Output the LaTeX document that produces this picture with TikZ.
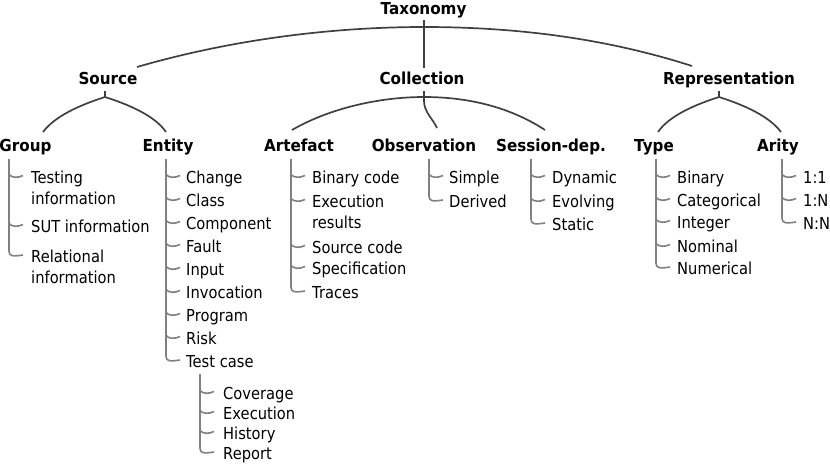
\documentclass[tikz,border=0pt]{standalone}
\usepackage{fontspec}
\setmainfont{DejaVu Sans}[FakeStretch=0.89, BoldFeatures={FakeStretch=0.92}]
\newcommand\leafhook[2]{\draw[leafline] (#1,#2-1.5) .. controls (#1+3,#2+2) and (#1+9,#2+2) .. (#1+14,#2-0.5);}
\newcommand\leafstem[3]{\draw[leafline] (#1,#2) -- (#1,#3-4) .. controls (#1,#3+1.5) and (#1+4,#3+1.5) .. (#1+14,#3);}
\newcommand\twolines[2]{\begin{tabular}[t]{@{}l@{}}#1\\#2\end{tabular}}
\begin{document}
\begin{tikzpicture}[x=1pt,y=-1pt,
  font=\fontsize{16.5}{21}\selectfont,
  hdr/.style={font=\fontsize{16.5}{21}\selectfont\bfseries, anchor=base, inner sep=0pt},
  leaf/.style={anchor=base west, inner sep=0pt},
  arcline/.style={draw=black!75, line width=1.7pt},
  leafline/.style={draw=black!50, line width=1.6pt}]
\useasboundingbox (0,0) rectangle (830,464);

% headers
\node[hdr] (tax) at (423.5,14) {Taxonomy};
\node[hdr] (src) at (108,84) {Source};
\node[hdr] (col) at (422,84) {Collection};
\node[hdr] (rep) at (729,84) {Representation};
\node[hdr] (grp) at (25.5,151) {Group};
\node[hdr] (ent) at (168,151) {Entity};
\node[hdr] (art) at (299,151) {Artefact};
\node[hdr] (obs) at (424,151) {Observation};
\node[hdr] (ses) at (551,151) {Session-dep.};
\node[hdr] (typ) at (654,151) {Type};
\node[hdr] (ari) at (778,151) {Arity};

% top level connectors
\coordinate (taxbot) at (424,20);
\coordinate (coltop) at (424,68);
\coordinate (tj) at (424,27);
\coordinate (srcend) at (137,67);
\coordinate (repend) at (692,66);
\draw[arcline] (taxbot) -- (coltop);
\draw[arcline] (srcend) .. controls (230,40) and (330,27) .. (tj) .. controls (515,27) and (605,38) .. (repend);

% collection connectors
\coordinate (artend) at (292,130);
\coordinate (sesend) at (545,130);
\coordinate (cj) at (424,97);
\coordinate (colbot) at (424,91);
\coordinate (obsend) at (437,128);
\draw[arcline] (artend) .. controls (330,108) and (380,97) .. (cj) .. controls (468,97) and (510,107) .. (sesend);
\draw[arcline] (colbot) -- (424,101) .. controls (424,112) and (433,119) .. (obsend);

% source connectors
\coordinate (srcbot) at (105,91);
\coordinate (sj) at (105,97);
\coordinate (grpend) at (43,132);
\coordinate (entend) at (166,132);
\draw[arcline] (srcbot) -- (sj);
\draw[arcline] (sj) .. controls (80,105) and (55,116) .. (grpend);
\draw[arcline] (sj) .. controls (130,105) and (155,116) .. (entend);

% representation connectors
\coordinate (repbot) at (719,91);
\coordinate (rj) at (719,97);
\coordinate (typend) at (658,132);
\coordinate (ariend) at (781,132);
\draw[arcline] (repbot) -- (rj);
\draw[arcline] (rj) .. controls (694,105) and (669,116) .. (typend);
\draw[arcline] (rj) .. controls (744,105) and (769,116) .. (ariend);

% Group leaves
\node[leaf] (g1) at (31,183) {\twolines{Testing}{information}};
\node[leaf] (g2) at (31,232) {SUT information};
\node[leaf] (g3) at (31,262) {\twolines{Relational}{information}};
\leafhook{9}{176}
\leafhook{9}{225}
\leafstem{9}{159}{255}

% Entity leaves
\node[leaf] (e1) at (186,183) {Change};
\node[leaf] (e2) at (186,206) {Class};
\node[leaf] (e3) at (186,229) {Component};
\node[leaf] (e4) at (186,252) {Fault};
\node[leaf] (e5) at (186,275) {Input};
\node[leaf] (e6) at (186,298) {Invocation};
\node[leaf] (e7) at (186,321) {Program};
\node[leaf] (e8) at (186,344) {Risk};
\node[leaf] (e9) at (186,367) {Test case};
\foreach \yy in {176,199,222,245,268,291,314,337}{\leafhook{166}{\yy}}
\leafstem{166}{159}{360}

% Test case leaves
\node[leaf] (t1) at (223,399) {Coverage};
\node[leaf] (t2) at (223,419) {Execution};
\node[leaf] (t3) at (223,439) {History};
\node[leaf] (t4) at (223,459) {Report};
\foreach \yy in {392,412,432}{\leafhook{200}{\yy}}
\leafstem{200}{374}{452}

% Artefact leaves
\node[leaf] (a1) at (312,183) {Binary code};
\node[leaf] (a2) at (312,207) {\twolines{Execution}{results}};
\node[leaf] (a3) at (312,253) {Source code};
\node[leaf] (a4) at (312,274) {Specification};
\node[leaf] (a5) at (312,298) {Traces};
\foreach \yy in {176,200,246,267}{\leafhook{291}{\yy}}
\leafstem{291}{159}{291}

% Observation leaves
\node[leaf] (o1) at (449,183) {Simple};
\node[leaf] (o2) at (449,207) {Derived};
\leafhook{429}{176}
\leafstem{429}{159}{200}

% Session-dep. leaves
\node[leaf] (s1) at (552,183) {Dynamic};
\node[leaf] (s2) at (552,207) {Evolving};
\node[leaf] (s3) at (552,230) {Static};
\foreach \yy in {176,200}{\leafhook{531}{\yy}}
\leafstem{531}{159}{223}

% Type leaves
\node[leaf] (y1) at (677,183) {Binary};
\node[leaf] (y2) at (677,206) {Categorical};
\node[leaf] (y3) at (677,228) {Integer};
\node[leaf] (y4) at (677,252) {Nominal};
\node[leaf] (y5) at (677,274) {Numerical};
\foreach \yy in {176,199,221,245}{\leafhook{656}{\yy}}
\leafstem{656}{159}{267}

% Arity leaves
\node[leaf] (r1) at (803,183) {1:1};
\node[leaf] (r2) at (803,206) {1:N};
\node[leaf] (r3) at (803,229) {N:N};
\foreach \yy in {176,199}{\leafhook{782}{\yy}}
\leafstem{782}{159}{222}
\end{tikzpicture}
\end{document}
